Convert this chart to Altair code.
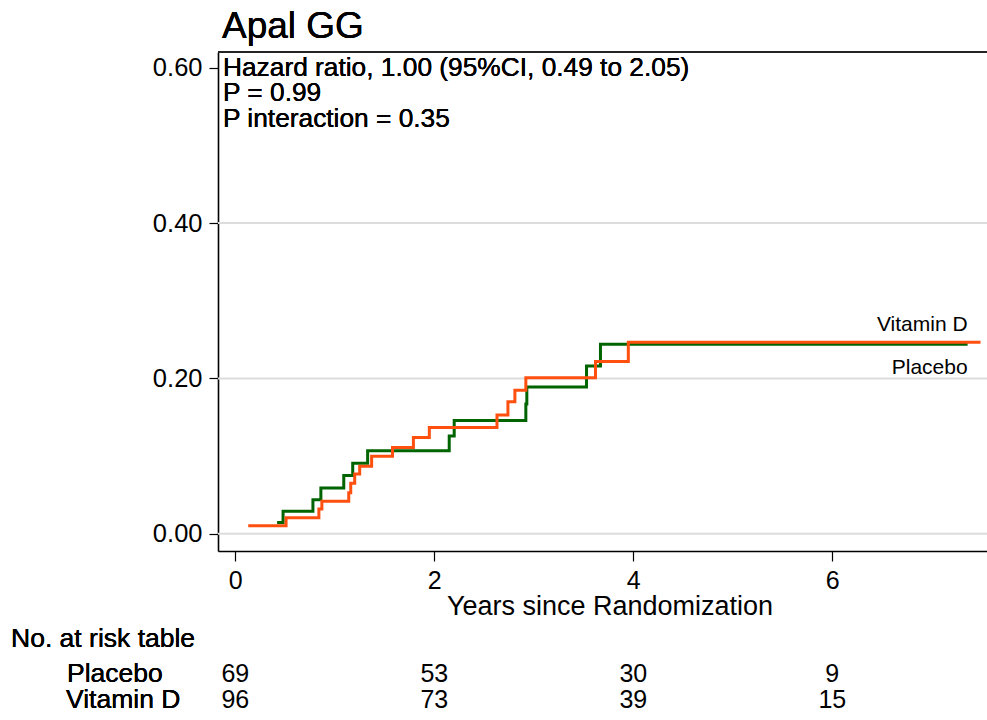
import altair as alt
import pandas as pd

# Cumulative incidence by arm (step function, years since randomization)
placebo_years = [0.42, 0.48, 0.78, 0.86, 1.09, 1.18, 1.33, 2.15, 2.20, 2.92, 2.93, 3.53, 3.67, 7.36]
placebo_cuminc = [0.0145, 0.029, 0.044, 0.059, 0.075, 0.091, 0.107, 0.126, 0.146, 0.167, 0.189, 0.216, 0.244, 0.244]

vitd_years = [0.13, 0.51, 0.84, 0.87, 1.14, 1.16, 1.20, 1.25, 1.37, 1.58, 1.79, 1.95,
              2.63, 2.74, 2.81, 2.92, 3.62, 3.95, 7.49]
vitd_cuminc = [0.0104, 0.0208, 0.032, 0.042, 0.053, 0.065, 0.077, 0.087, 0.100, 0.111, 0.124, 0.137,
               0.153, 0.170, 0.185, 0.201, 0.222, 0.2466, 0.2466]

# Number at risk
risk_years = [0, 2, 4, 6]
placebo_at_risk = [69, 53, 30, 9]
vitd_at_risk = [96, 73, 39, 15]

x_ticks = [0, 2, 4, 6]
y_ticks = [0.0, 0.2, 0.4, 0.6]
grid_values = [0.0, 0.2, 0.4]

title_text = "Apal GG"
stats_lines = ["Hazard ratio, 1.00 (95%CI, 0.49 to 2.05)", "P = 0.99", "P interaction = 0.35"]

FONT = "Liberation Sans"
W, H = 769, 499
GREEN = "#006400"
ORANGE = "#ff5010"

placebo_df = pd.DataFrame({"year": placebo_years, "cuminc": placebo_cuminc})
vitd_df = pd.DataFrame({"year": vitd_years, "cuminc": vitd_cuminc})
risk_placebo_df = pd.DataFrame({"year": risk_years, "n": placebo_at_risk})
risk_vitd_df = pd.DataFrame({"year": risk_years, "n": vitd_at_risk})
grid_df = pd.DataFrame({"v": grid_values})
vitd_end_df = pd.DataFrame({"year": [placebo_years[-1]], "cuminc": [vitd_cuminc[-1]], "label": ["Vitamin D"]})
placebo_end_df = pd.DataFrame({"year": [placebo_years[-1]], "cuminc": [placebo_cuminc[-1]], "label": ["Placebo"]})

x_scale = alt.Scale(domain=[-0.174, 7.555], nice=False, zero=False)
y_scale = alt.Scale(domain=[-0.0221, 0.6203], nice=False, zero=False)

x_axis = alt.Axis(
    values=x_ticks, format="d", grid=False,
    domainColor="black", domainWidth=1.6, tickColor="black", tickWidth=1.2, tickSize=10,
    labelFont=FONT, labelFontSize=25, labelColor="black", labelPadding=27,
    labelBaseline="alphabetic", labelFlush=False,
    title="Years since Randomization", titleFont=FONT, titleFontSize=27,
    titleFontWeight="normal", titleColor="black", titleX=391.5, titleY=63,
    titleAlign="center", titleBaseline="alphabetic",
)
y_axis = alt.Axis(
    values=y_ticks, format=".2f", grid=False,
    domainColor="black", domainWidth=1.6, tickColor="black", tickWidth=1.2, tickSize=9,
    labelFont=FONT, labelFontSize=25.5, labelColor="black", labelPadding=7,
    labelBaseline="middle", labelFlush=False, title=None,
)

X = alt.X("year:Q", scale=x_scale, axis=x_axis)
Y = alt.Y("cuminc:Q", scale=y_scale, axis=y_axis)

grid = alt.Chart(grid_df).mark_rule(color="#dcdcdc", strokeWidth=2).encode(
    y=alt.Y("v:Q", scale=y_scale, axis=y_axis)
)

top_frame = alt.Chart(grid_df).mark_rule(color="#222222", strokeWidth=1.6).encode(
    x=alt.value(0), x2=alt.value(W), y=alt.value(0)
)

placebo_line = alt.Chart(placebo_df).mark_line(
    interpolate="step-after", color=GREEN, strokeWidth=3
).encode(x=X, y=Y)

vitd_line = alt.Chart(vitd_df).mark_line(
    interpolate="step-after", color=ORANGE, strokeWidth=3
).encode(x=X, y=Y)

vitd_end = alt.Chart(vitd_end_df).mark_text(
    align="right", baseline="alphabetic", font=FONT, fontSize=21, color="black", dy=-11
).encode(x=X, y=Y, text="label:N")

placebo_end = alt.Chart(placebo_end_df).mark_text(
    align="right", baseline="alphabetic", font=FONT, fontSize=21, color="black", dy=30
).encode(x=X, y=Y, text="label:N")

title_mark = alt.Chart(grid_df).mark_text(
    align="left", baseline="alphabetic", font=FONT, fontSize=37, color="black"
).encode(x=alt.value(4), y=alt.value(-14.5), text=alt.value(title_text))

stats_text = alt.Chart(grid_df).mark_text(
    align="left", baseline="alphabetic", font=FONT, fontSize=26.3, color="black",
    lineHeight=25.5,
).encode(x=alt.value(5), y=alt.value(23.7), text=alt.value(stats_lines))

risk_header = alt.Chart(grid_df).mark_text(
    align="left", baseline="alphabetic", font=FONT, fontSize=26.5, color="black"
).encode(x=alt.value(-207), y=alt.value(595), text=alt.value("No. at risk table"))

risk_placebo_label = alt.Chart(grid_df).mark_text(
    align="left", baseline="alphabetic", font=FONT, fontSize=26.5, color="black"
).encode(x=alt.value(-151), y=alt.value(630), text=alt.value("Placebo"))

risk_vitd_label = alt.Chart(grid_df).mark_text(
    align="left", baseline="alphabetic", font=FONT, fontSize=26.5, color="black"
).encode(x=alt.value(-152), y=alt.value(656), text=alt.value("Vitamin D"))

risk_placebo_nums = alt.Chart(risk_placebo_df).mark_text(
    align="center", baseline="alphabetic", font=FONT, fontSize=25, color="black"
).encode(x=X, y=alt.value(630), text="n:Q")

risk_vitd_nums = alt.Chart(risk_vitd_df).mark_text(
    align="center", baseline="alphabetic", font=FONT, fontSize=25, color="black"
).encode(x=X, y=alt.value(656), text="n:Q")

chart = alt.layer(
    grid, top_frame, placebo_line, vitd_line, vitd_end, placebo_end, title_mark, stats_text,
    risk_header, risk_placebo_label, risk_vitd_label, risk_placebo_nums, risk_vitd_nums,
).properties(
    width=W,
    height=H,
    autosize=alt.AutoSizeParams(type="none"),
    padding={"left": 218, "top": 52, "right": 0, "bottom": 169},
).configure_view(stroke="transparent").configure(background="white")

chart.save("out.html", embed_options={"renderer": "svg", "actions": False})
